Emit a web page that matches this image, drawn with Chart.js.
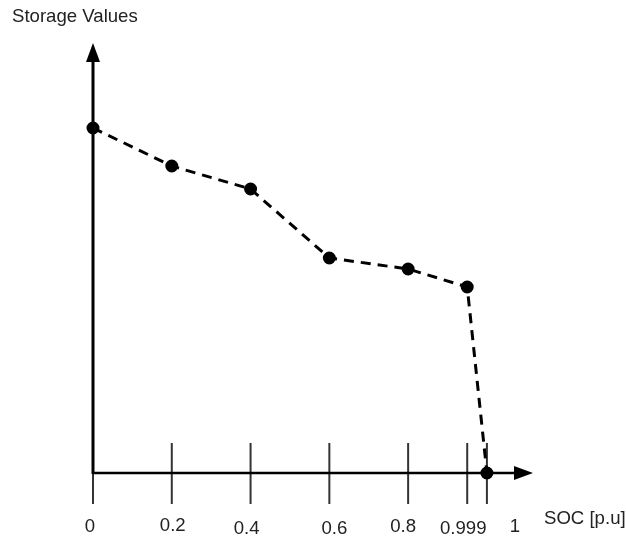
<!DOCTYPE html>
<html>
<head>
<meta charset="utf-8">
<script src="https://cdn.jsdelivr.net/npm/chart.js@4"></script>
<style>
  html, body { margin: 0; padding: 0; background: #fff; }
</style>
</head>
<body>
<canvas id="chart" width="626" height="537"></canvas>
<script>
// data (schematic axis, 0.999 sits a bit left of 1)
const xLabels = ['0', '0.2', '0.4', '0.6', '0.8', '0.999', '1']
const xPos = [0, 0.2, 0.4, 0.6, 0.8, 0.95, 1.0]
const storage = [345, 307, 284, 215, 204, 186, 0]

const yTitle = 'Storage Values'
const xTitle = 'SOC [p.u]'

const FONT = '"Liberation Sans", Arial, sans-serif'

// axes, arrows, tick marks and labels
const axesPlugin = {
  id: 'axesPlugin',
  beforeDatasetsDraw(chart) {
    const ctx = chart.ctx
    const x = chart.scales.x
    const y = chart.scales.y
    const x0 = x.getPixelForValue(0)
    const y0 = y.getPixelForValue(0)
    const xEnd = x.right
    const yTop = y.top

    ctx.save()
    ctx.strokeStyle = '#000'
    ctx.fillStyle = '#000'

    // tick marks
    ctx.strokeStyle = '#333'
    ctx.lineWidth = 2
    xPos.forEach(v => {
      const px = x.getPixelForValue(v)
      ctx.beginPath()
      ctx.moveTo(px, y0 - 30)
      ctx.lineTo(px, y0 + 31)
      ctx.stroke()
    })

    // x axis
    ctx.strokeStyle = '#000'
    ctx.lineWidth = 2.5
    ctx.beginPath()
    ctx.moveTo(x0, y0)
    ctx.lineTo(xEnd - 15, y0)
    ctx.stroke()
    ctx.beginPath()
    ctx.moveTo(xEnd, y0)
    ctx.lineTo(xEnd - 19, y0 - 7)
    ctx.lineTo(xEnd - 19, y0 + 7)
    ctx.closePath()
    ctx.fill()

    // y axis
    ctx.lineWidth = 3
    ctx.beginPath()
    ctx.moveTo(x0, y0 + 1)
    ctx.lineTo(x0, yTop + 15)
    ctx.stroke()
    ctx.beginPath()
    ctx.moveTo(x0, yTop)
    ctx.lineTo(x0 - 7, yTop + 19)
    ctx.lineTo(x0 + 7, yTop + 19)
    ctx.closePath()
    ctx.fill()

    // labels
    ctx.fillStyle = '#222'
    ctx.font = '18.6px ' + FONT
    ctx.textBaseline = 'middle'
    ctx.textAlign = 'center'
    const shift = [-3, 1, -4, 5, -5, -4, 28]
    const drop = [0, -1, 2, 2, 0, 2, 0]
    xLabels.forEach((lab, i) => {
      ctx.fillText(lab, x.getPixelForValue(xPos[i]) + shift[i], y0 + 54 + drop[i])
    })

    ctx.textAlign = 'left'
    ctx.fillText(xTitle, 544, y0 + 46)
    ctx.fillText(yTitle, 12, 17)
    ctx.restore()
  }
}

const ctx = document.getElementById('chart').getContext('2d')

const data = {
  datasets: [{
    data: xPos.map((v, i) => ({ x: v, y: storage[i] })),
    borderColor: '#000',
    backgroundColor: '#000',
    borderWidth: 3,
    borderDash: [10, 7],
    pointRadius: 5,
    pointHoverRadius: 5,
    tension: 0,
    clip: false
  }]
}

const config = {
  type: 'line',
  data: data,
  options: {
    responsive: false,
    animation: false,
    layout: { padding: { left: 93, right: 93, top: 43, bottom: 64 } },
    plugins: { legend: { display: false }, tooltip: { enabled: false } },
    scales: {
      x: { type: 'linear', min: 0, max: 1.117, display: false },
      y: { min: 0, max: 430, display: false }
    }
  },
  plugins: [axesPlugin]
}

const myChart = new Chart(ctx, config)
</script>
</body>
</html>
